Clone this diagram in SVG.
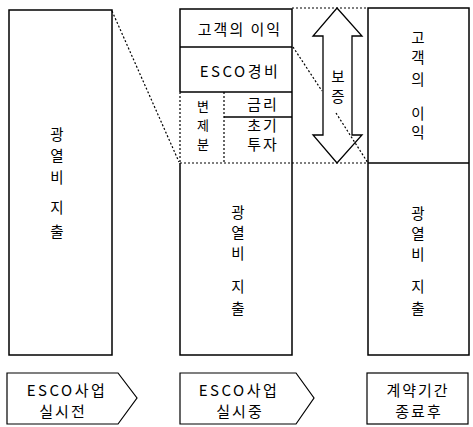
<svg xmlns="http://www.w3.org/2000/svg" width="473" height="427" viewBox="0 0 473 427">
<style>
.box{fill:none;stroke:#000;stroke-width:1.5}
.ln{fill:none;stroke:#000;stroke-width:1.3}
.dot{fill:none;stroke:#000;stroke-width:1.2;stroke-dasharray:2 2}
.tag{fill:#fff;stroke:#000;stroke-width:1.2}
text{font-family:"Noto Sans CJK KR","Noto Sans",sans-serif;font-size:14.5px;fill:#000;text-anchor:middle;dominant-baseline:central}
.h{font-size:15px;letter-spacing:2px}
.e{font-size:15px;letter-spacing:2.5px}
.s{font-size:13px}
</style>
<rect width="473" height="427" fill="#fff"/>
<g id="connectors">
<line class="dot" x1="112" y1="11" x2="179" y2="162"/>
<line class="dot" x1="293" y1="47" x2="322" y2="91"/>
<line class="dot" x1="336" y1="113" x2="368" y2="163"/>
<line class="dot" x1="292" y1="8" x2="368" y2="8"/>
<line class="dot" x1="292" y1="163" x2="368" y2="163"/>
</g>
<g id="before">
<rect class="box" x="9" y="10" width="103" height="345"/>
<text x="57" y="133">광</text>
<text x="57" y="154">열</text>
<text x="57" y="176">비</text>
<text x="57" y="206">지</text>
<text x="57" y="230">출</text>
</g>
<g id="during">
<polyline class="box" points="180,92 180,9 292,9 292,355 180,355 180,163"/>
<line class="ln" x1="180" y1="47" x2="292" y2="47"/>
<line class="ln" x1="180" y1="92" x2="292" y2="92"/>
<line class="ln" x1="224" y1="117" x2="292" y2="117"/>
<line class="dot" x1="180" y1="92" x2="180" y2="163"/>
<line class="dot" x1="180" y1="163" x2="292" y2="163"/>
<line class="dot" x1="224" y1="92" x2="224" y2="163"/>
<text class="h" x="240" y="28">고객의 이익</text>
<text class="e" x="240" y="70">ESCO경비</text>
<text class="s" x="203" y="105">변</text>
<text class="s" x="203" y="124">제</text>
<text class="s" x="203" y="143">분</text>
<text class="h" x="263" y="103">금리</text>
<text class="h" x="263" y="124">초기</text>
<text class="h" x="263" y="143">투자</text>
<text x="238" y="211">광</text>
<text x="238" y="231">열</text>
<text x="238" y="252">비</text>
<text x="238" y="285">지</text>
<text x="238" y="307">출</text>
</g>
<g id="guarantee">
<path class="ln" d="M337,8 L362,36 L352,36 L352,135 L362,135 L337,163 L313,135 L323,135 L323,36 L313,36 Z"/>
<text x="338" y="75">보</text>
<text x="338" y="95">증</text>
</g>
<g id="after">
<rect class="box" x="368" y="8" width="101" height="347"/>
<line class="ln" x1="368" y1="163" x2="469" y2="163"/>
<text x="418" y="36">고</text>
<text x="418" y="56">객</text>
<text x="418" y="78">의</text>
<text x="418" y="112">이</text>
<text x="418" y="131">익</text>
<text x="418" y="212">광</text>
<text x="418" y="232">열</text>
<text x="418" y="253">비</text>
<text x="418" y="285">지</text>
<text x="418" y="307">출</text>
</g>
<g id="stage1">
<polygon class="tag" points="7,373 118,373 137,398 118,424 7,424"/>
<text class="e" x="67" y="389">ESCO사업</text>
<text class="h" x="63" y="410">실시전</text>
</g>
<g id="stage2">
<polygon class="tag" points="180,373 296,373 314,398 296,424 180,424"/>
<text class="e" x="239" y="389">ESCO사업</text>
<text class="h" x="240" y="410">실시중</text>
</g>
<g id="stage3">
<rect class="tag" x="367" y="373" width="101" height="51"/>
<text class="h" x="418" y="389">계약기간</text>
<text class="h" x="419" y="410">종료후</text>
</g>
</svg>
